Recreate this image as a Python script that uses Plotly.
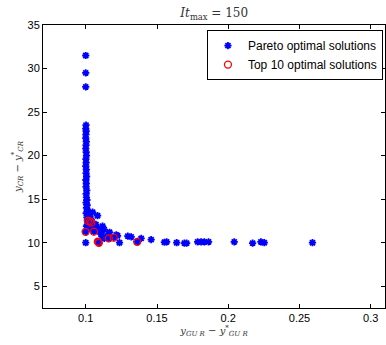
import plotly.graph_objects as go

# Pareto optimal solutions (y_GUR - y*_GUR, y_CR - y*_CR)
pareto_x = [0.1000, 0.1000, 0.1000,
            0.1002, 0.1000, 0.1003, 0.1001, 0.1000, 0.1004, 0.1002, 0.1000, 0.1003, 0.1005,
            0.1001, 0.1003, 0.1000, 0.1004, 0.1002, 0.1006, 0.1001, 0.1004, 0.1002, 0.1007,
            0.1003, 0.1005, 0.1008, 0.1002, 0.1010, 0.1005, 0.1013, 0.1003, 0.1018, 0.1008,
            0.1025, 0.1035, 0.1012, 0.1045, 0.1020, 0.1060, 0.1005, 0.1075, 0.1040, 0.1090,
            0.1110, 0.1000,
            0.1048, 0.1083, 0.1118, 0.1130, 0.1071, 0.1106, 0.1130, 0.1153, 0.1120, 0.1167,
            0.1214, 0.1223, 0.1237, 0.1295, 0.1319, 0.1389, 0.1459, 0.1552, 0.1568, 0.1638,
            0.1692, 0.1708, 0.1785, 0.1809, 0.1832, 0.1862, 0.2042, 0.2171, 0.2229, 0.2253,
            0.2591,
            0.1015, 0.1039, 0.0999, 0.1057, 0.1085, 0.1092, 0.1162, 0.1197, 0.1361, 0.1030]
pareto_y = [31.5, 29.5, 27.9,
            23.5, 23.1, 22.8, 22.4, 22.0, 21.6, 21.2, 20.8, 20.4, 20.0,
            19.6, 19.2, 18.8, 18.4, 18.0, 17.6, 17.2, 16.8, 16.4, 16.0,
            15.6, 15.2, 14.9, 14.6, 14.3, 14.0, 13.7, 13.4, 13.2, 12.9,
            13.0, 12.8, 12.6, 12.4, 12.2, 12.0, 11.9, 11.7, 11.6, 11.4,
            11.2, 10.0,
            13.5, 13.1, 11.9, 11.5, 12.1, 11.0, 10.5, 10.8, 10.6, 11.2,
            10.9, 10.8, 10.0, 10.75, 10.67, 10.5, 10.35, 10.05, 10.1, 10.0,
            9.95, 9.95, 10.1, 10.1, 10.1, 10.1, 10.1, 9.95, 10.1, 10.0,
            10.0,
            12.5, 12.3, 11.25, 11.27, 10.12, 9.98, 10.5, 10.58, 10.1, 12.45]

# Top 10 optimal solutions
top10_x = [0.1015, 0.1039, 0.0999, 0.1057, 0.1085, 0.1092, 0.1162, 0.1197, 0.1361, 0.1030]
top10_y = [12.5, 12.3, 11.25, 11.27, 10.12, 9.98, 10.5, 10.58, 10.1, 12.45]

x_ticks = [0.1, 0.15, 0.2, 0.25, 0.3]
x_tick_labels = ["0.1", "0.15", "0.2", "0.25", "0.3"]
y_ticks = [5, 10, 15, 20, 25, 30, 35]

fig = go.Figure()
fig.add_trace(go.Scatter(
    x=pareto_x, y=pareto_y, mode="markers", name="Pareto optimal solutions",
    marker=dict(symbol="asterisk-open", size=6, color="blue",
                line=dict(color="blue", width=1.8)),
))
fig.add_trace(go.Scatter(
    x=top10_x, y=top10_y, mode="markers", name="Top 10 optimal solutions",
    marker=dict(symbol="circle-open", size=7, color="red",
                line=dict(color="red", width=1.3)),
))

axis_common = dict(
    showgrid=False, zeroline=False, showline=True, linecolor="black", linewidth=1,
    mirror="ticks", ticks="inside", ticklen=4, tickcolor="black", automargin=False,
    tickfont=dict(family="Liberation Sans, Arial, sans-serif", size=11, color="black"),
)

fig.update_layout(
    width=386, height=345,
    margin=dict(l=43, r=1, t=25, b=37),
    paper_bgcolor="white", plot_bgcolor="white",
    title=dict(text="<i>It</i><sub>max</sub> = 150", x=0.555, xanchor="center",
               y=0.962, yanchor="middle",
               font=dict(family="DejaVu Serif, serif", size=12, color="#333")),
    xaxis=dict(range=[0.07, 0.31], tickvals=x_ticks, ticktext=x_tick_labels,
               title=dict(text="<i>y<sub>GU R</sub></i> − <i>y</i><sup>*</sup><sub><i>GU R</i></sub>",
                          standoff=2,
                          font=dict(family="DejaVu Serif, serif", size=10, color="#333")),
               **axis_common),
    yaxis=dict(range=[2.5, 35], tickvals=y_ticks,
               title=dict(text="<i>y<sub>CR</sub></i> − <i>y</i><sup>*</sup><sub><i>CR</i></sub>",
                          standoff=4,
                          font=dict(family="DejaVu Serif, serif", size=10, color="#333")),
               **axis_common),
    showlegend=True,
    legend=dict(x=0.994, xanchor="right", y=0.982, yanchor="top",
                bordercolor="black", borderwidth=1, bgcolor="white",
                font=dict(family="Liberation Sans, Arial, sans-serif", size=12, color="black"),
                tracegroupgap=0, itemwidth=30),
)

fig.write_html("out.html", config={"displayModeBar": False},
               post_script="document.body.style.margin='0';document.body.style.overflow='hidden';")
